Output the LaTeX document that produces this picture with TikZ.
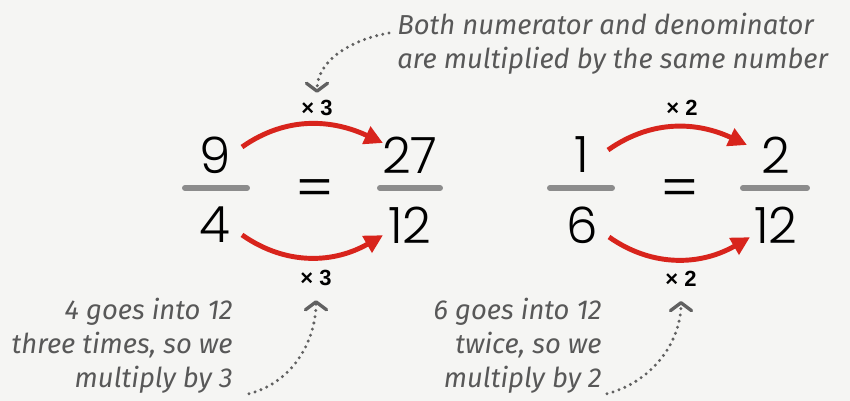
\documentclass[tikz,border=0pt]{standalone}
\usepackage{fontspec}
\setmainfont{Fira Sans}
\newfontfamily\numfont{Poppins Light}
\newfontfamily\labelfont{Liberation Sans}
\usetikzlibrary{arrows.meta, positioning}
\definecolor{arrowred}{RGB}{216,36,28}
\definecolor{bargray}{RGB}{140,140,140}
\definecolor{notegray}{RGB}{88,88,88}
\definecolor{paper}{RGB}{245,245,243}

\begin{document}
\begin{tikzpicture}[
        x=0.02cm, y=0.02cm,
        num/.style={inner sep=0pt, font=\numfont\fontsize{28.5}{30}\selectfont},
        times/.style={inner sep=1pt, font=\labelfont\bfseries\fontsize{12.5}{12.5}\selectfont},
        note/.style={inner sep=0pt, text=notegray, font=\itshape\fontsize{15.6}{19.3}\selectfont},
        fracbar/.style={bargray, line width=3.4pt, line cap=round},
        mult/.style={arrowred, line width=2.8pt, -{Triangle[length=10.5pt,width=10.5pt]}},
        hint/.style={black!62, line width=1.9pt, line cap=round, dash pattern=on 0pt off 3.6pt, -{Straight Barb[length=4.5pt,width=12pt,round]}}
    ]
    \fill[paper] (0,0) rectangle (850,-401);

    % 9/4 = 27/12
    \node[num] (n9) at (215,-155) {9};
    \node[num, below=0.66cm of n9] (n4) {4};
    \node[num, scale=1.15] (eq1) at (315,-194) {=};
    \node[num] (n27) at (410,-155) {27};
    \node[num, below=0.66cm of n27] (n12a) {12};
    \draw[fracbar] (185,-188) -- (247,-188);
    \draw[fracbar] (380,-188) -- (440,-188);

    % 1/6 = 2/12
    \node[num] (n1) at (582,-155) {1};
    \node[num, below=0.66cm of n1] (n6) {6};
    \node[num, scale=1.15] (eq2) at (680,-194) {=};
    \node[num] (n2) at (776,-155) {2};
    \node[num, below=0.66cm of n2] (n12b) {12};
    \draw[fracbar] (550,-188) -- (612,-188);
    \draw[fracbar] (743,-188) -- (807,-188);

    \node[times] (x3a) at (317,-108) {× 3};
    \node[times] (x3b) at (316,-278) {× 3};
    \node[times] (x2a) at (682,-108) {× 2};
    \node[times] (x2b) at (681,-279) {× 2};

    \draw[mult] ([shift={(27,8)}]n9.center) to[out=35,in=155] ([shift={(-27,12)}]n27.center);
    \draw[mult] ([shift={(27,-10)}]n4.center) to[out=-35,in=-150] ([shift={(-27,-10)}]n12a.center);
    \draw[mult] ([shift={(26,5)}]n1.center) to[out=35,in=155] ([shift={(-29,10)}]n2.center);
    \draw[mult] ([shift={(27,-12)}]n6.center) to[out=-35,in=-150] ([shift={(-26,-12)}]n12b.center);

    \node[note, anchor=north west, align=left] (noteTop) at (397,-13) {Both numerator and denominator\\are multiplied by the same number};
    \node[note, anchor=north east, align=right] (noteL) at (233,-298) {4 goes into 12\\three times, so we\\multiply by 3};
    \node[note, anchor=north east, align=right] (noteR) at (602,-298) {6 goes into 12\\twice, so we\\multiply by 2};

    \draw[hint, shorten >=3pt] ([shift={(-8,-20)}]noteTop.north west) to[out=190,in=90] (x3a.north);
    \draw[hint, shorten >=7pt] ([shift={(16,0)}]noteL.south east) to[out=15,in=-90] (x3b.south);
    \draw[hint, shorten >=7pt] ([shift={(5,0)}]noteR.south east) to[out=15,in=-90] (x2b.south);
\end{tikzpicture}
\end{document}
